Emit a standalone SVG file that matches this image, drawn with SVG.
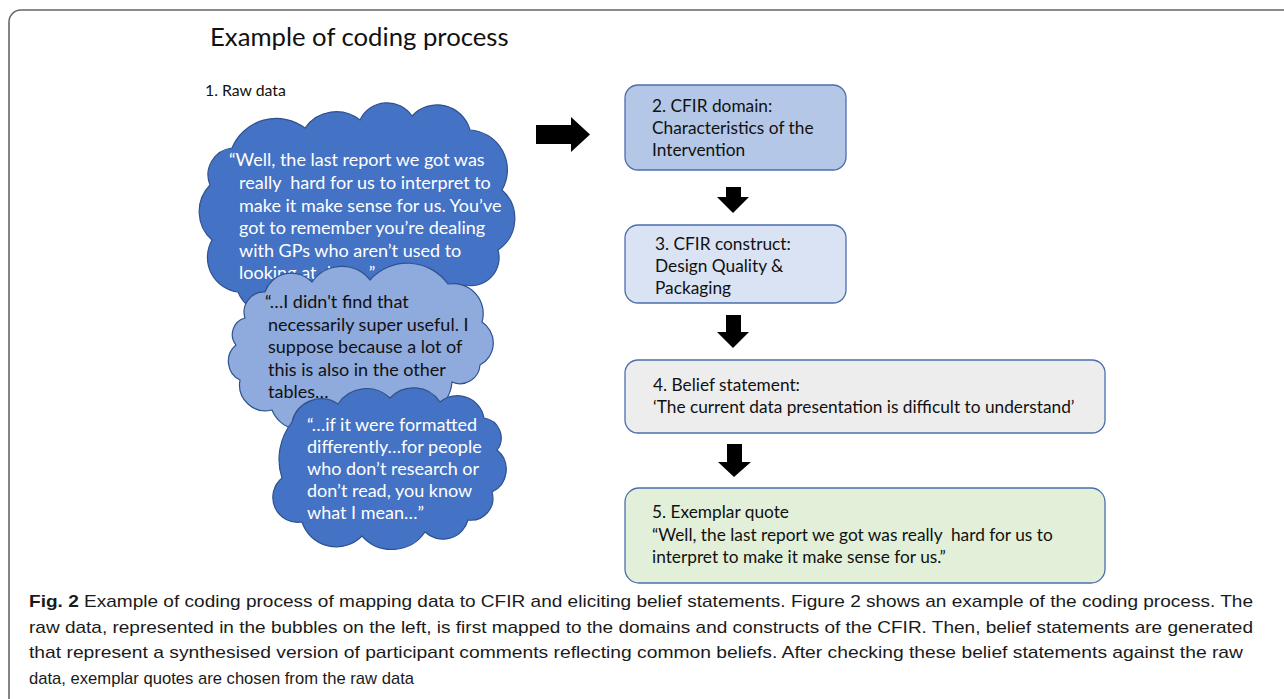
<svg xmlns="http://www.w3.org/2000/svg" width="1284" height="699" viewBox="0 0 1284 699">
<style>
.t{font-family:Lato,"Open Sans","Liberation Sans",sans-serif;font-size:17.3px;white-space:pre}
.c{font-size:18px}
.w{fill:#ffffff}
.k{fill:#111111}
.dark{fill:#4472c4;stroke:#2f528f;stroke-width:1.2}
.light{fill:#8faadc;stroke:#2f528f;stroke-width:1.2}
.box{stroke:#4a6eae;stroke-width:1.3}
.cap{font-family:"Liberation Sans",Arial,sans-serif;font-size:17px;fill:#1a1a1a}
.arr{fill:#000000}
</style>
<rect width="1284" height="699" fill="#ffffff"/>
<path d="M9 699 V22 A12 12 0 0 1 21 10 H1284" fill="none" stroke="#666666" stroke-width="1.6"/>

<text x="210" y="46" class="t" style="font-size:25.7px;fill:#111">Example of coding process</text>
<text x="205" y="96" class="t" style="font-size:15.8px;fill:#111">1. Raw data</text>

<g id="cloud1">
<path class="dark" d="M210 185 A27 27 0 0 1 232 148 A48 48 0 0 1 305 128 A38 38 0 0 1 360 120 A30 30 0 0 1 412 116 A34 34 0 0 1 470 130 A40 40 0 0 1 502 190 A38 38 0 0 1 498 250 A28 28 0 0 1 465 285 A50 50 0 0 1 385 300 A50 50 0 0 1 300 300 A36 36 0 0 1 238 292 A35 35 0 0 1 212 240 A38 38 0 0 1 210 185 Z"/>
<text class="t c w" x="229" y="166">“Well, the last report we got was</text>
<text class="t c w" x="239" y="189">really  hard for us to interpret to</text>
<text class="t c w" x="239" y="212">make it make sense for us. You’ve</text>
<text class="t c w" x="239" y="234">got to remember you’re dealing</text>
<text class="t c w" x="239" y="257">with GPs who aren’t used to</text>
<text class="t c w" x="239" y="279">looking at data…”</text>
</g>

<g id="cloud2">
<path class="light" d="M245 318 A20 20 0 0 1 265 292 A28 28 0 0 1 312 282 A36 36 0 0 1 370 280 A50 50 0 0 1 448 284 A30 30 0 0 1 482 322 A25 25 0 0 1 480 365 A20 20 0 0 1 452 382 A38 38 0 0 1 395 412 A42 42 0 0 1 325 420 A32 32 0 0 1 272 410 A26 26 0 0 1 240 380 A21 21 0 0 1 236 345 A17 17 0 0 1 245 318 Z"/>
<text class="t c k" x="265" y="308">“…I didn't find that</text>
<text class="t c k" x="268" y="331">necessarily super useful. I</text>
<text class="t c k" x="268" y="353">suppose because a lot of</text>
<text class="t c k" x="268" y="376">this is also in the other</text>
<text class="t c k" x="268" y="398">tables…</text>
</g>

<g id="cloud3">
<path class="dark" d="M292 422 A30 30 0 0 1 338 404 A34 34 0 0 1 390 398 A32 32 0 0 1 440 402 A27 27 0 0 1 484 418 A20 20 0 0 1 497 450 A25 25 0 0 1 492 492 A22 22 0 0 1 468 520 A26 26 0 0 1 425 532 A40 40 0 0 1 362 536 A36 36 0 0 1 302 522 A25 25 0 0 1 282 478 A60 60 0 0 1 292 422 Z"/>
<text class="t c w" x="307" y="431">“…if it were formatted</text>
<text class="t c w" x="307" y="453">differently…for people</text>
<text class="t c w" x="307" y="475">who don’t research or</text>
<text class="t c w" x="307" y="497">don’t read, you know</text>
<text class="t c w" x="307" y="519">what I mean…”</text>
</g>

<g id="box2">
<rect class="box" x="625" y="85" width="221" height="85" rx="13" fill="#b4c7e7"/>
<text class="t k" x="652" y="112">2. CFIR domain:</text>
<text class="t k" x="652" y="134">Characteristics of the</text>
<text class="t k" x="652" y="156">Intervention</text>
</g>

<g id="box3">
<rect class="box" x="625" y="225" width="221" height="78" rx="13" fill="#dae3f3"/>
<text class="t k" x="655" y="250">3. CFIR construct:</text>
<text class="t k" x="655" y="272">Design Quality &amp;</text>
<text class="t k" x="655" y="294">Packaging</text>
</g>

<g id="box4">
<rect class="box" x="625" y="360" width="480" height="73" rx="13" fill="#ededed"/>
<text class="t k" x="653" y="391">4. Belief statement:</text>
<text class="t k" x="653" y="413">‘The current data presentation is difficult to understand’</text>
</g>

<g id="box5">
<rect class="box" x="625" y="488" width="480" height="95" rx="14" fill="#e2f0d9"/>
<text class="t k" x="652" y="518">5. Exemplar quote</text>
<text class="t k" x="652" y="541">“Well, the last report we got was really  hard for us to</text>
<text class="t k" x="652" y="563">interpret to make it make sense for us.”</text>
</g>

<g id="connectors">
<polygon class="arr" points="536,125 571,125 571,117 590,134.5 571,152 571,144 536,144"/>
<polygon class="arr" points="726,187 741,187 741,197 749,197 733,213 717,197 726,197"/>
<polygon class="arr" points="726,315 741,315 741,332 749,332 733,348 717,332 726,332"/>
<polygon class="arr" points="727,444 742,444 742,462 751,462 734,477 718,462 727,462"/>
</g>

<g id="caption">
<text class="cap" x="29" y="607" textLength="1224" lengthAdjust="spacingAndGlyphs"><tspan font-weight="bold">Fig. 2</tspan>  Example of coding process of mapping data to CFIR and eliciting belief statements. Figure 2 shows an example of the coding process. The</text>
<text class="cap" x="29" y="633" textLength="1224" lengthAdjust="spacingAndGlyphs">raw data, represented in the bubbles on the left, is first mapped to the domains and constructs of the CFIR. Then, belief statements are generated</text>
<text class="cap" x="29" y="658" textLength="1214" lengthAdjust="spacingAndGlyphs">that represent a synthesised version of participant comments reflecting common beliefs. After checking these belief statements against the raw</text>
<text class="cap" x="29" y="684" textLength="385" lengthAdjust="spacingAndGlyphs">data, exemplar quotes are chosen from the raw data</text>
</g>
</svg>
